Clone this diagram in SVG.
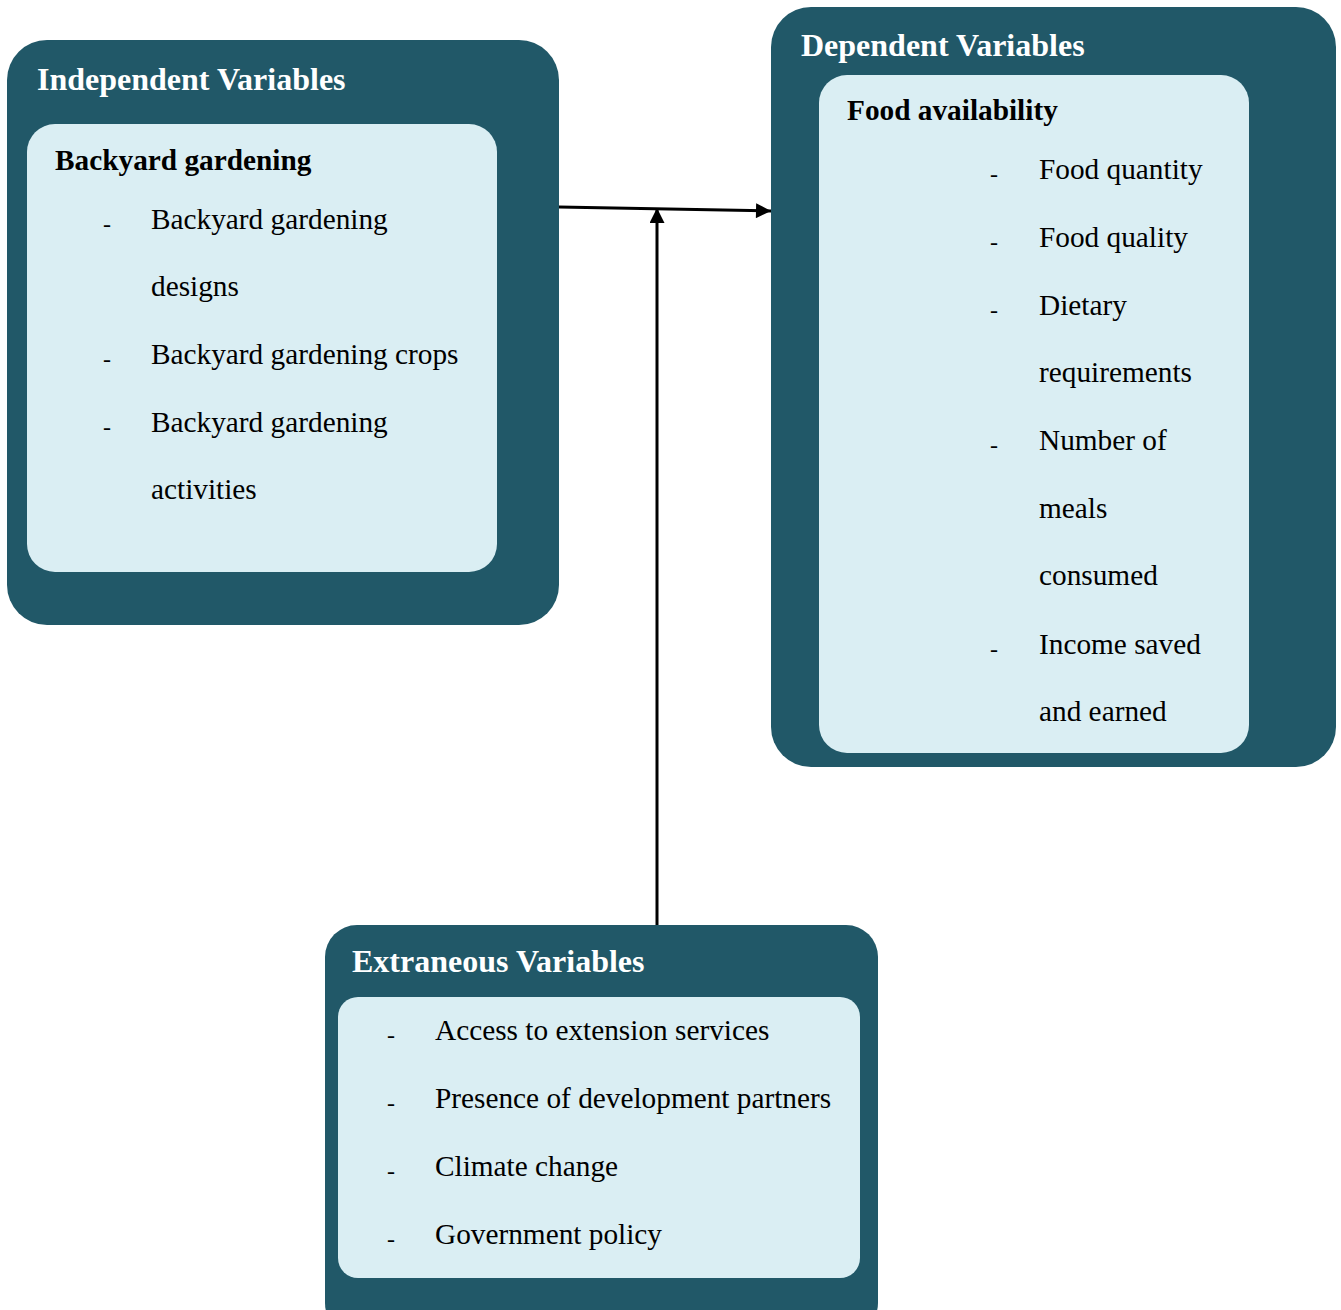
<svg xmlns="http://www.w3.org/2000/svg" width="1341" height="1310" viewBox="0 0 1341 1310">
<defs>
<style>
.outer{fill:#215868}
.inner{fill:#DAEEF3}
.title{font-family:"Liberation Serif",serif;font-weight:bold;font-size:32px;fill:#ffffff}
.sub{font-family:"Liberation Serif",serif;font-weight:bold;font-size:29.3px;fill:#000}
.item{font-family:"Liberation Serif",serif;font-size:29.3px;fill:#000}
.dash{font-family:"Liberation Serif",serif;font-size:24px;fill:#000}
.conn{stroke:#000;stroke-width:3;fill:none}
</style>
<marker id="ah" viewBox="0 0 10 10" refX="10" refY="5" markerWidth="6" markerHeight="5" orient="auto" markerUnits="strokeWidth">
<path d="M0,0 L10,5 L0,10 z" fill="#000"/>
</marker>
</defs>
<rect width="1341" height="1310" fill="#fff"/>
<g id="independent">
<rect class="outer" x="7" y="40" width="552" height="585" rx="40"/>
<rect class="inner" x="27" y="124" width="470" height="448" rx="28"/>
<text class="title" x="37" y="90">Independent Variables</text>
<text class="sub" x="55" y="170">Backyard gardening</text>
<text class="dash" x="103" y="232">-</text><text class="item" x="151" y="229">Backyard gardening</text>
<text class="item" x="151" y="296">designs</text>
<text class="dash" x="103" y="367">-</text><text class="item" x="151" y="364">Backyard gardening crops</text>
<text class="dash" x="103" y="435">-</text><text class="item" x="151" y="432">Backyard gardening</text>
<text class="item" x="151" y="499">activities</text>
</g>
<g id="dependent">
<rect class="outer" x="771" y="7" width="565" height="760" rx="40"/>
<rect class="inner" x="819" y="75" width="430" height="678" rx="28"/>
<text class="title" x="801" y="56">Dependent Variables</text>
<text class="sub" x="847" y="120">Food availability</text>
<text class="dash" x="990" y="182">-</text><text class="item" x="1039" y="179">Food quantity</text>
<text class="dash" x="990" y="250">-</text><text class="item" x="1039" y="247">Food quality</text>
<text class="dash" x="990" y="318">-</text><text class="item" x="1039" y="315">Dietary</text>
<text class="item" x="1039" y="382">requirements</text>
<text class="dash" x="990" y="453">-</text><text class="item" x="1039" y="450">Number of</text>
<text class="item" x="1039" y="518">meals</text>
<text class="item" x="1039" y="585">consumed</text>
<text class="dash" x="990" y="657">-</text><text class="item" x="1039" y="654">Income saved</text>
<text class="item" x="1039" y="721">and earned</text>
</g>
<g id="extraneous">
<rect class="outer" x="325" y="925" width="553" height="410" rx="32"/>
<rect class="inner" x="338" y="997" width="522" height="281" rx="20"/>
<text class="title" x="352" y="972">Extraneous Variables</text>
<text class="dash" x="387" y="1043">-</text><text class="item" x="435" y="1040">Access to extension services</text>
<text class="dash" x="387" y="1111">-</text><text class="item" x="435" y="1108">Presence of development partners</text>
<text class="dash" x="387" y="1179">-</text><text class="item" x="435" y="1176">Climate change</text>
<text class="dash" x="387" y="1247">-</text><text class="item" x="435" y="1244">Government policy</text>
</g>
<g id="connectors">
<line class="conn" x1="559" y1="207" x2="771" y2="211" marker-end="url(#ah)"/>
<line class="conn" x1="657" y1="925" x2="657" y2="208" marker-end="url(#ah)"/>
</g>
</svg>
